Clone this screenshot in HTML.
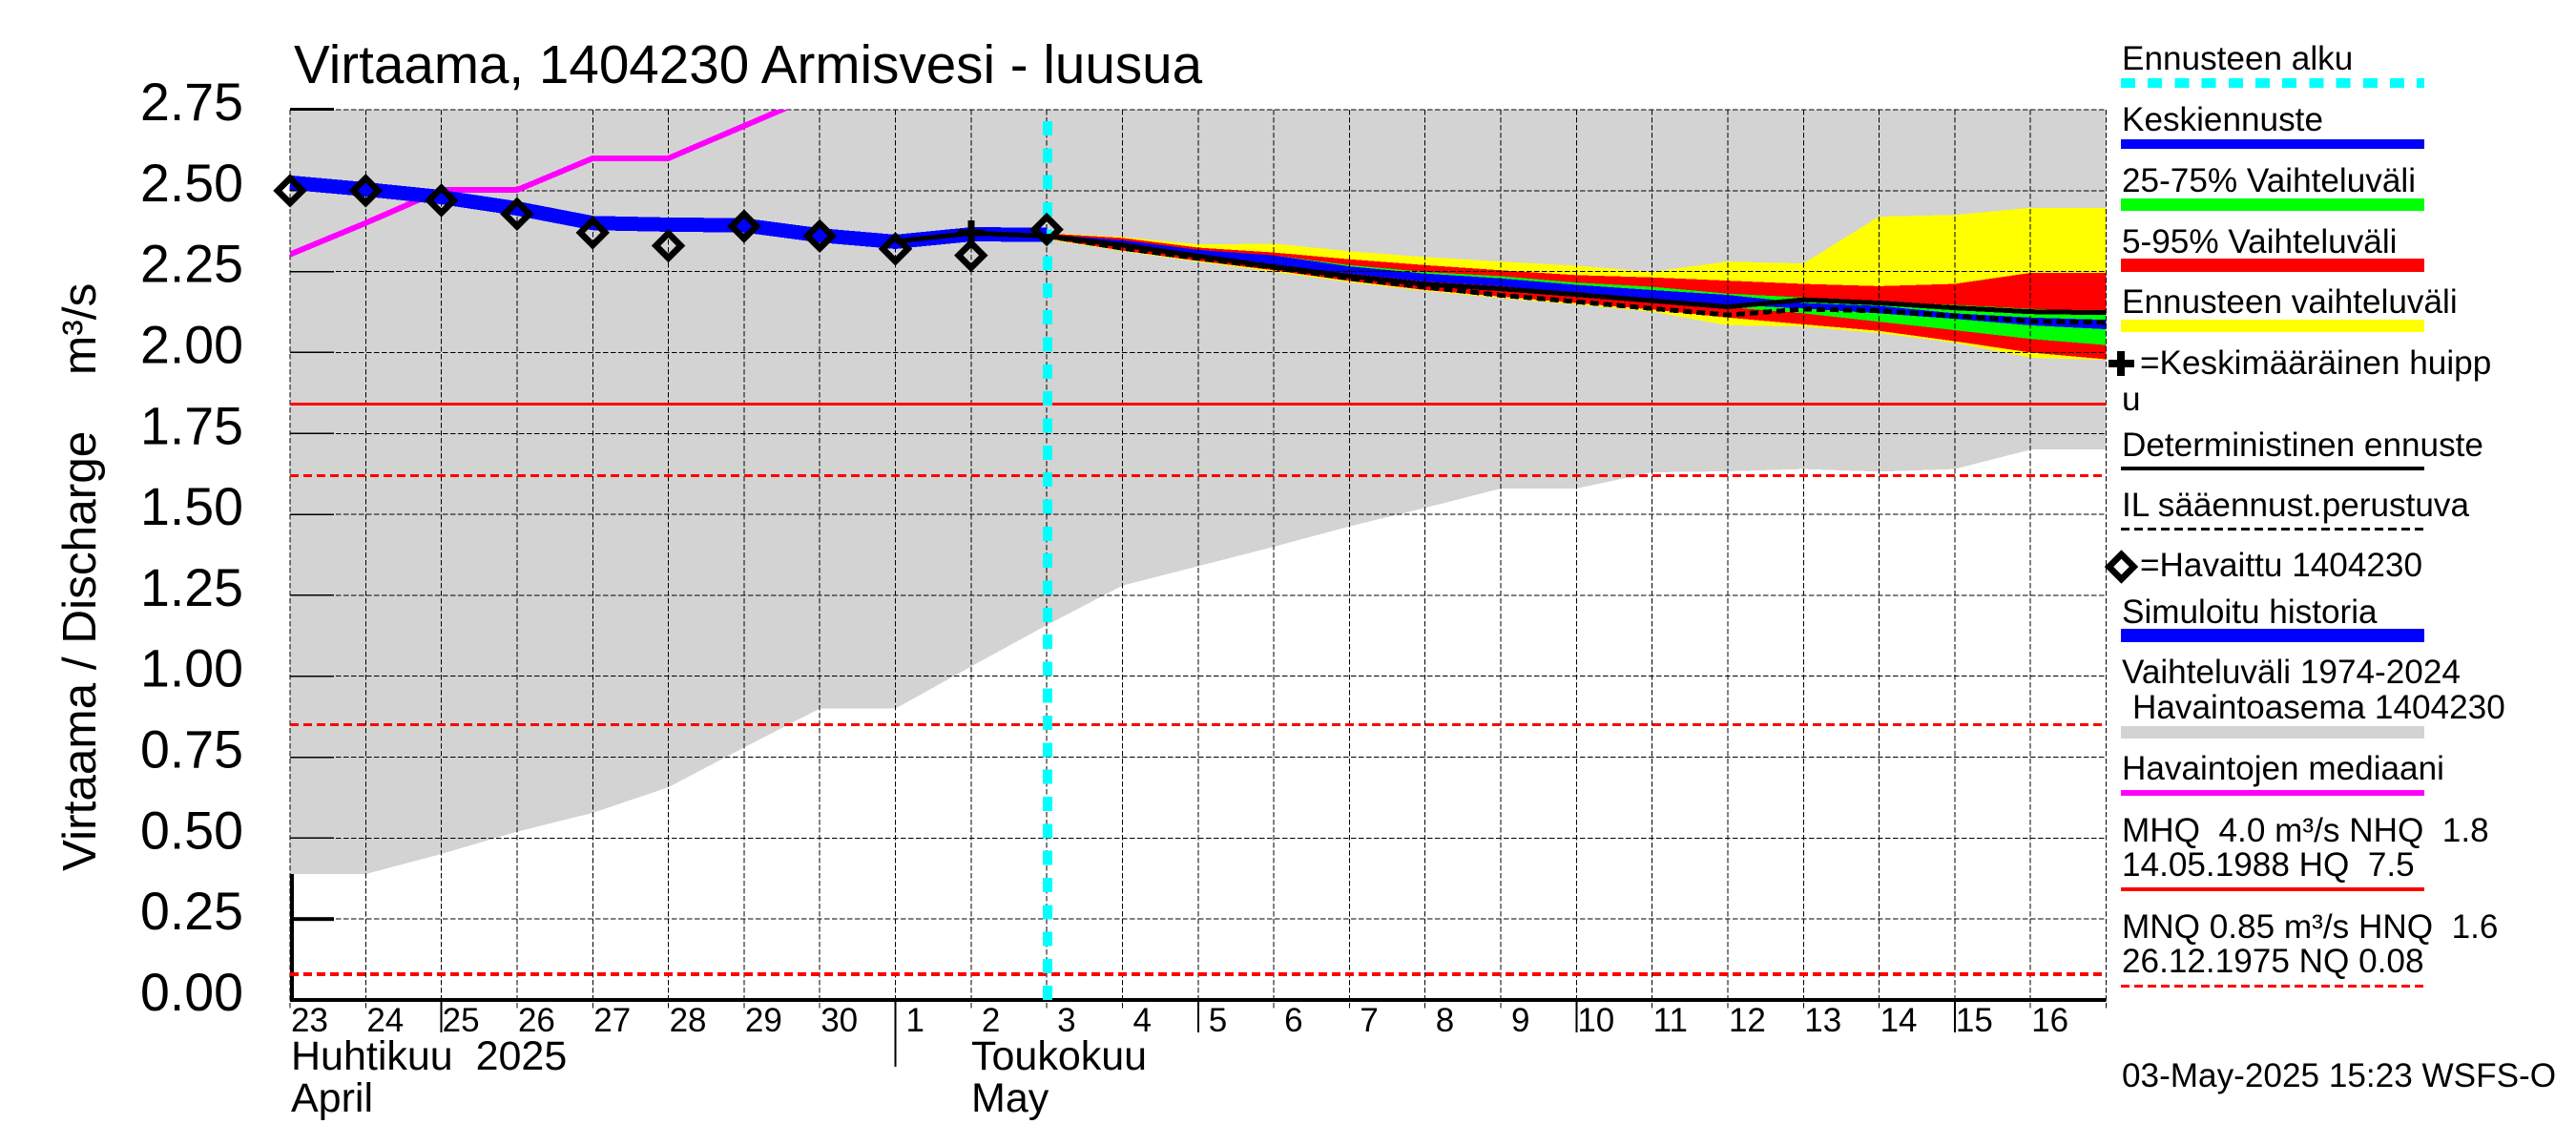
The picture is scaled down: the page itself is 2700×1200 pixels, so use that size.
<!DOCTYPE html>
<html lang="fi">
<head>
<meta charset="utf-8">
<title>Virtaama, 1404230 Armisvesi - luusua</title>
<style>
html,body{margin:0;padding:0;background:#fff;}
svg{display:block;}
text{font-family:"Liberation Sans",sans-serif;fill:#000;white-space:pre;}
.lg{font-size:35.15px;}
</style>
</head>
<body>
<svg id="chart" xmlns="http://www.w3.org/2000/svg" width="2700" height="1200" viewBox="0 0 2700 1200">
  <defs>
    <clipPath id="plot-clip"><rect x="304" y="115" width="1904" height="935"/></clipPath>
  </defs>
  <rect x="0" y="0" width="2700" height="1200" fill="#fff"/>
  <g id="plot"></g>
  <text x="308" y="87" font-size="56.6">Virtaama, 1404230 Armisvesi - luusua</text>
  <text transform="translate(100,913) rotate(-90)" font-size="49.5">Virtaama / Discharge</text>
  <text transform="translate(100,393) rotate(-90)" font-size="49.5">m³/s</text>
  <text x="305" y="1121" font-size="43">Huhtikuu  2025</text>
  <text x="305" y="1165" font-size="43">April</text>
  <text x="1018" y="1121" font-size="43">Toukokuu</text>
  <text x="1018" y="1165" font-size="43">May</text>

  <g>
    <text class="lg" x="2224" y="73">Ennusteen alku</text>
    <line x1="2223" x2="2541" y1="87" y2="87" stroke="#00ffff" stroke-width="10" stroke-dasharray="15 13.2" shape-rendering="crispEdges"/>
    <text class="lg" x="2224" y="137">Keskiennuste</text>
    <rect x="2223" y="146" width="318" height="10" fill="#0000ff"/>
    <text class="lg" x="2224" y="201">25-75% Vaihteluväli</text>
    <rect x="2223" y="208" width="318" height="13" fill="#00ff00"/>
    <text class="lg" x="2224" y="265">5-95% Vaihteluväli</text>
    <rect x="2223" y="271" width="318" height="14" fill="#ff0000"/>
    <text class="lg" x="2224" y="328">Ennusteen vaihteluväli</text>
    <rect x="2223" y="335" width="318" height="13" fill="#ffff00"/>
    <g>
      <rect x="2210" y="377" width="27" height="8" fill="#000"/>
      <rect x="2219" y="368" width="8" height="26" fill="#000"/>
    </g>
    <text class="lg" x="2243" y="392">=Keskimääräinen huipp</text>
    <text class="lg" x="2224" y="430">u</text>
    <text class="lg" x="2224" y="478">Deterministinen ennuste</text>
    <rect x="2223" y="489" width="318" height="4" fill="#000"/>
    <text class="lg" x="2224" y="541">IL sääennust.perustuva</text>
    <line x1="2223" x2="2541" y1="554.5" y2="554.5" stroke="#000" stroke-width="3" stroke-dasharray="9 5" shape-rendering="crispEdges"/>
    <polygon points="2223.5,581 2236.5,594 2223.5,607 2210.5,594" fill="none" stroke="#000" stroke-width="6.7"/>
    <text class="lg" x="2243" y="604">=Havaittu 1404230</text>
    <text class="lg" x="2224" y="653">Simuloitu historia</text>
    <rect x="2223" y="659" width="318" height="14" fill="#0000ff"/>
    <text class="lg" x="2224" y="716">Vaihteluväli 1974-2024</text>
    <text class="lg" x="2235" y="753">Havaintoasema 1404230</text>
    <rect x="2223" y="761" width="318" height="13" fill="#d3d3d3"/>
    <text class="lg" x="2224" y="817">Havaintojen mediaani</text>
    <rect x="2223" y="828" width="318" height="6" fill="#ff00ff"/>
    <text class="lg" x="2224" y="882">MHQ  4.0 m³/s NHQ  1.8</text>
    <text class="lg" x="2224" y="918">14.05.1988 HQ  7.5</text>
    <rect x="2223" y="930" width="318" height="4" fill="#ff0000"/>
    <text class="lg" x="2224" y="983">MNQ 0.85 m³/s HNQ  1.6</text>
    <text class="lg" x="2224" y="1019">26.12.1975 NQ 0.08</text>
    <line x1="2223" x2="2541" y1="1033.5" y2="1033.5" stroke="#ff0000" stroke-width="3" stroke-dasharray="9 5" shape-rendering="crispEdges"/>
  </g>
  <text class="lg" x="2224" y="1139">03-May-2025 15:23 WSFS-O</text>
</svg>

<script>
// ---------- chart data (m3/s) ----------
var dayLabels = ['23','24','25','26','27','28','29','30','1','2','3','4','5','6','7','8','9','10','11','12','13','14','15','16'];
var longTickLabels = ['25','5','10','15'];
var monthTickLabels = ['1'];
var yTicks = [0,0.25,0.5,0.75,1,1.25,1.5,1.75,2,2.25,2.5,2.75];
var yTickLabels = ['0.00','0.25','0.50','0.75','1.00','1.25','1.50','1.75','2.00','2.25','2.50','2.75'];

var rangeLower = [0.389,0.389,0.451,0.52,0.578,0.657,0.78,0.90,0.90,1.03,1.158,1.28,1.34,1.40,1.463,1.52,1.58,1.58,1.63,1.633,1.64,1.632,1.64,1.70,1.70];
var rangeUpper = [2.75,2.75,2.75,2.75,2.75,2.75,2.75,2.75,2.75,2.75,2.75,2.75,2.75,2.75,2.75,2.75,2.75,2.75,2.75,2.75,2.75,2.75,2.75,2.75,2.75];

var medianObserved = [2.303,2.40,2.502,2.502,2.60,2.60,2.70,2.80];
var simulatedHistory = [2.525,2.504,2.48,2.445,2.40,2.395,2.393,2.362,2.342,2.365,2.364];
var observed = [2.50,2.50,2.47,2.428,2.37,2.33,2.39,2.36,2.32,2.30,2.38];

var forecastStartDay = 10;
var yellowTop = [2.37,2.357,2.334,2.336,2.313,2.295,2.281,2.268,2.25,2.281,2.275,2.42,2.425,2.447,2.447];
var redTop = [2.368,2.354,2.324,2.309,2.288,2.27,2.254,2.239,2.232,2.222,2.212,2.205,2.212,2.246,2.246];
var greenTop = [2.365,2.347,2.317,2.30,2.27,2.249,2.236,2.216,2.203,2.182,2.17,2.157,2.147,2.135,2.126];
var blueTop = [2.365,2.347,2.317,2.30,2.266,2.244,2.229,2.209,2.193,2.178,2.153,2.144,2.121,2.108,2.101];
var blueBottom = [2.355,2.327,2.303,2.271,2.244,2.219,2.205,2.185,2.165,2.148,2.136,2.121,2.104,2.084,2.072];
var greenBottom = [2.355,2.327,2.303,2.271,2.244,2.219,2.205,2.185,2.165,2.14,2.121,2.095,2.069,2.042,2.023];
var redBottom = [2.352,2.315,2.283,2.254,2.221,2.193,2.173,2.153,2.133,2.108,2.087,2.067,2.035,2.0,1.979];
var yellowBottom = [2.35,2.313,2.28,2.249,2.217,2.19,2.168,2.148,2.126,2.084,2.08,2.06,2.03,1.984,1.977];

var deterministicStartDay = 8;
var deterministic = [2.343,2.369,2.36,2.332,2.298,2.265,2.236,2.211,2.197,2.179,2.16,2.141,2.163,2.153,2.138,2.126,2.123];
var ilForecast = [2.36,2.322,2.291,2.263,2.229,2.202,2.177,2.157,2.136,2.116,2.134,2.129,2.113,2.097,2.093];

var meanPeakDay = [9];
var meanPeakValue = [2.37];
var forecastStart = [10];
var refDashedThin = [1.62,0.85];
var refSolid = [1.84];
var refDashedThick = [0.08];

// ---------- axis functions ----------
var plotLeft = 304, plotRight = 2207.5, plotBottom = 1048, plotTop = 115, axisDays = 24, axisMax = 2.75;
function xS(day){ return plotLeft + day * (plotRight - plotLeft) / axisDays; }
function yS(v){ return plotBottom - v * (plotBottom - plotTop) / axisMax; }

var NS = 'http://www.w3.org/2000/svg';
var plot = document.getElementById('plot');
function make(tag, attrs, parent){
  var el = document.createElementNS(NS, tag);
  for (var k in attrs) el.setAttribute(k, attrs[k]);
  (parent || plot).appendChild(el);
  return el;
}
function band(upper, lower, start){
  var pts = [];
  for (var i = 0; i < upper.length; i++) pts.push(xS(start + i) + ',' + yS(upper[i]));
  for (var j = lower.length - 1; j >= 0; j--) pts.push(xS(start + j) + ',' + yS(lower[j]));
  return pts.join(' ');
}
function linePts(vals, start){
  var pts = [];
  for (var i = 0; i < vals.length; i++) pts.push(xS(start + i) + ',' + yS(vals[i]));
  return pts.join(' ');
}

var el, i;

// axis lines and thick ticks (partly hidden by the range polygon)
el = make('rect', {x: plotLeft, y: plotTop, width: 4, height: plotBottom - plotTop + 2, fill: '#000'});


for (i = 0; i < yTicks.length; i++) {
  el = make('rect', {x: plotLeft, y: yS(yTicks[i]) - 2, width: 46, height: 4, fill: '#000'});
  
  
}

// historical range
el = make('polygon', {points: band(rangeUpper, rangeLower, 0), fill: '#d3d3d3', 'shape-rendering': 'crispEdges'});



// forecast bands
el = make('polygon', {points: band(yellowTop, yellowBottom, forecastStartDay), fill: '#ffff00', 'shape-rendering': 'crispEdges'});


el = make('polygon', {points: band(redTop, redBottom, forecastStartDay), fill: '#ff0000', 'shape-rendering': 'crispEdges'});


el = make('polygon', {points: band(greenTop, greenBottom, forecastStartDay), fill: '#00ff00', 'shape-rendering': 'crispEdges'});


el = make('polygon', {points: band(blueTop, blueBottom, forecastStartDay), fill: '#0000ff', 'shape-rendering': 'crispEdges'});



// grid
for (i = 0; i < yTicks.length; i++) {
  el = make('line', {x1: plotLeft, x2: plotRight, y1: yS(yTicks[i]), y2: yS(yTicks[i]), stroke: '#000', 'stroke-width': 1, 'stroke-dasharray': '5.5 2.5', 'shape-rendering': 'crispEdges'});
  
  
  el = make('line', {x1: plotLeft, x2: plotLeft + 46, y1: yS(yTicks[i]), y2: yS(yTicks[i]), stroke: '#000', 'stroke-width': 1.5, 'shape-rendering': 'crispEdges'});
  
  
}
for (i = 0; i <= axisDays; i++) {
  el = make('line', {x1: xS(i), x2: xS(i), y1: plotTop, y2: plotBottom + 9, stroke: '#000', 'stroke-width': 1, 'stroke-dasharray': '5.5 2.5', 'shape-rendering': 'crispEdges'});
  
  
}

// reference lines
for (i = 0; i < refSolid.length; i++) {
  el = make('line', {x1: plotLeft, x2: plotRight, y1: yS(refSolid[i]), y2: yS(refSolid[i]), stroke: '#ff0000', 'stroke-width': 3, 'shape-rendering': 'crispEdges'});
  
  
}
for (i = 0; i < refDashedThin.length; i++) {
  el = make('line', {x1: plotLeft, x2: plotRight, y1: yS(refDashedThin[i]), y2: yS(refDashedThin[i]), stroke: '#ff0000', 'stroke-width': 3, 'stroke-dasharray': '9 5', 'shape-rendering': 'crispEdges'});
  
  
}
for (i = 0; i < refDashedThick.length; i++) {
  el = make('line', {x1: plotLeft, x2: plotRight, y1: yS(refDashedThick[i]), y2: yS(refDashedThick[i]), stroke: '#ff0000', 'stroke-width': 4, 'stroke-dasharray': '9 5', 'shape-rendering': 'crispEdges'});
  
  
}

// bottom axis
el = make('rect', {x: plotLeft, y: plotBottom - 2, width: plotRight - plotLeft, height: 4, fill: '#000'});



// forecast start
el = make('line', {x1: xS(forecastStart[0]) + 0.7, x2: xS(forecastStart[0]) + 0.7, y1: 127, y2: plotBottom, stroke: '#00ffff', 'stroke-width': 10, 'stroke-dasharray': '15 13.32', 'shape-rendering': 'crispEdges'});



// series lines
el = make('polyline', {points: linePts(medianObserved, 0), fill: 'none', stroke: '#ff00ff', 'stroke-width': 6, 'clip-path': 'url(#plot-clip)', 'shape-rendering': 'crispEdges'});


el = make('polyline', {points: linePts(simulatedHistory, 0), fill: 'none', stroke: '#0000ff', 'stroke-width': 15, 'shape-rendering': 'crispEdges'});


el = make('polyline', {points: linePts(deterministic, deterministicStartDay), fill: 'none', stroke: '#000', 'stroke-width': 5, 'shape-rendering': 'crispEdges'});


el = make('polyline', {points: linePts(ilForecast, forecastStartDay), fill: 'none', stroke: '#000', 'stroke-width': 5, 'stroke-dasharray': '9 5', 'shape-rendering': 'crispEdges'});



// mean peak marker
for (i = 0; i < meanPeakDay.length; i++) {
  var px = xS(meanPeakDay[i]), py = yS(meanPeakValue[i]);
  el = make('path', {d: 'M' + (px - 14) + ' ' + py + 'H' + (px + 14) + 'M' + px + ' ' + (py - 13) + 'V' + (py + 13), fill: 'none', stroke: '#000', 'stroke-width': 7, 'shape-rendering': 'crispEdges'});
  
  
}

// observed diamonds
for (i = 0; i < observed.length; i++) {
  var cx = xS(i), cy = yS(observed[i]), r = 13;
  el = make('polygon', {points: cx + ',' + (cy - r) + ' ' + (cx + r) + ',' + cy + ' ' + cx + ',' + (cy + r) + ' ' + (cx - r) + ',' + cy, fill: 'none', stroke: '#000', 'stroke-width': 6.7});
  
  
}

// y tick labels
for (i = 0; i < yTicks.length; i++) {
  el = make('text', {x: 255, y: yS(yTicks[i]) + 11, 'text-anchor': 'end', 'font-size': 55.5});
  el.textContent = yTickLabels[i];
  
  
}

// x tick labels and long ticks
for (i = 0; i < dayLabels.length; i++) {
  var lab = dayLabels[i];
  el = make('text', {x: xS(i) + (lab.length === 1 ? 11 : 1), y: 1081, 'font-size': 35});
  el.textContent = lab;
  
  
  if (longTickLabels.indexOf(lab) >= 0) {
    el = make('line', {x1: xS(i), x2: xS(i), y1: plotBottom, y2: 1082, stroke: '#000', 'stroke-width': 2, 'shape-rendering': 'crispEdges'});
    
    
  }
  if (monthTickLabels.indexOf(lab) >= 0) {
    el = make('line', {x1: xS(i), x2: xS(i), y1: plotBottom, y2: 1118, stroke: '#000', 'stroke-width': 2, 'shape-rendering': 'crispEdges'});
    
    
  }
}
</script>
</body>
</html>
